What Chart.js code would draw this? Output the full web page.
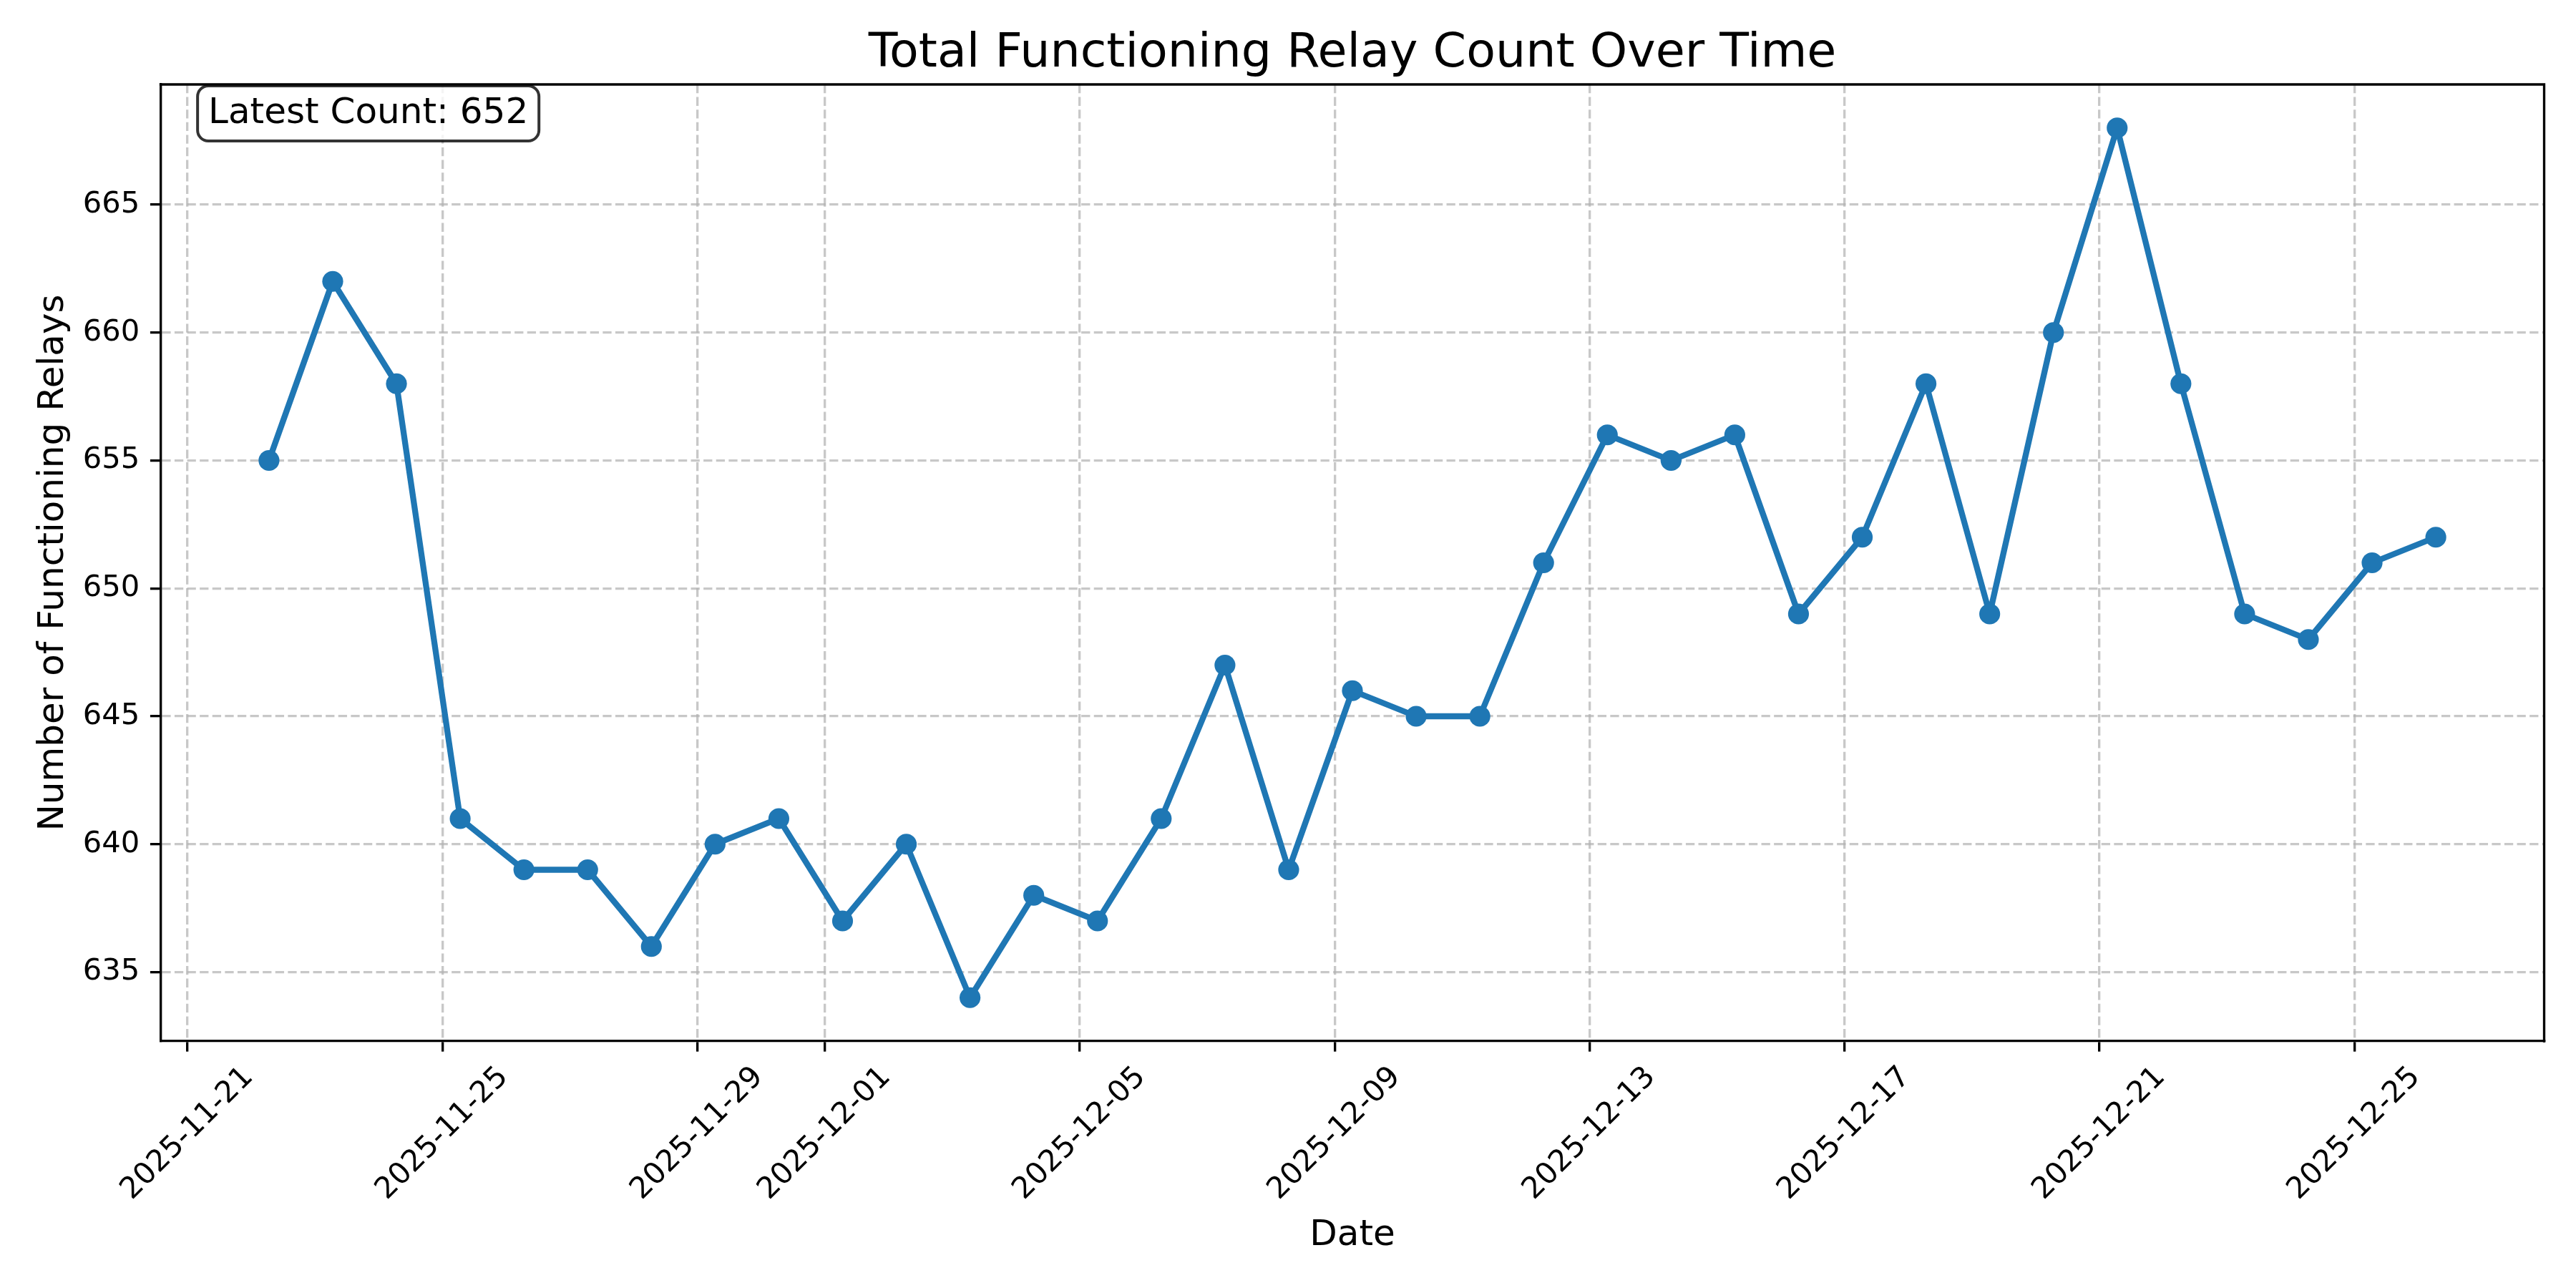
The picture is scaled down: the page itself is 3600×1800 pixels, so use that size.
<!DOCTYPE html>
<html>
<head>
<meta charset="utf-8">
<title>Total Functioning Relay Count Over Time</title>
<script src="https://cdn.jsdelivr.net/npm/chart.js@4.4.1/dist/chart.umd.min.js"></script>
<style>
  html, body { margin: 0; padding: 0; background: #fff; }
  #wrap { width: 3600px; height: 1800px; }
</style>
</head>
<body>
<div id="wrap"><canvas id="relayChart" width="3600" height="1800"></canvas></div>
<script>
// sample times (daily readings)
const dates = [
    '2025-11-22', '2025-11-23', '2025-11-24', '2025-11-25', '2025-11-26', '2025-11-27', '2025-11-28',
    '2025-11-29', '2025-11-30', '2025-12-01', '2025-12-02', '2025-12-03', '2025-12-04', '2025-12-05',
    '2025-12-06', '2025-12-07', '2025-12-08', '2025-12-09', '2025-12-10', '2025-12-11', '2025-12-12',
    '2025-12-13', '2025-12-14', '2025-12-15', '2025-12-16', '2025-12-17', '2025-12-18', '2025-12-19',
    '2025-12-20', '2025-12-21', '2025-12-22', '2025-12-23', '2025-12-24', '2025-12-25', '2025-12-26'
];
const sampleTime = '06:40';
const relayCounts = [
    655, 662, 658, 641, 639, 639, 636,
    640, 641, 637, 640, 634, 638, 637,
    641, 647, 639, 646, 645, 645, 651,
    656, 655, 656, 649, 652, 658, 649,
    660, 668, 658, 649, 648, 651, 652
];
const xTickDates = ['2025-11-21', '2025-11-25', '2025-11-29', '2025-12-01', '2025-12-05',
                    '2025-12-09', '2025-12-13', '2025-12-17', '2025-12-21', '2025-12-25'];
const yTicks = [635, 640, 645, 650, 655, 660, 665];

const chartTitle = 'Total Functioning Relay Count Over Time';
const xTitle = 'Date';
const yTitle = 'Number of Functioning Relays';
const latestText = 'Latest Count: ' + relayCounts[relayCounts.length - 1];

const DAY = 86400000;
const toDays = s => Date.parse(s + 'Z') / DAY;
const fmtDay = v => new Date(Math.round(v * DAY)).toISOString().slice(0, 10);

const xVals = dates.map(d => toDays(d + 'T' + sampleTime + ':00'));
const xTickVals = xTickDates.map(d => toDays(d + 'T00:00:00'));
const points = xVals.map((x, i) => ({ x: x, y: relayCounts[i] }));

// matplotlib-like 5% margins
const xSpan = xVals[xVals.length - 1] - xVals[0];
const yMinData = Math.min(...relayCounts), yMaxData = Math.max(...relayCounts);
const ySpan = yMaxData - yMinData;

const FONT = 'DejaVu Sans';
const tickPx = 41.67;
const gridColor = 'rgba(176,176,176,0.7)';
const lw = 3.33;
const tickLen = 14.6;

Chart.defaults.font.family = FONT;

const decor = {
    id: 'decor',
    afterDraw(chart) {
        const { ctx, chartArea: a, scales } = chart;
        ctx.save();

        // top + right spines
        ctx.strokeStyle = '#000';
        ctx.lineWidth = lw;
        ctx.lineCap = 'square';
        ctx.beginPath();
        ctx.moveTo(a.left, a.top);
        ctx.lineTo(a.right, a.top);
        ctx.lineTo(a.right, a.bottom);
        ctx.stroke();

        ctx.fillStyle = '#000';

        // x tick labels, rotated 45deg and centred on the tick
        const xs = scales.x;
        ctx.font = tickPx + 'px "' + FONT + '"';
        ctx.textAlign = 'center';
        ctx.textBaseline = 'middle';
        const labTop = a.bottom + tickLen + 14.6;
        xs.ticks.forEach(t => {
            const px = xs.getPixelForValue(t.value);
            const w = ctx.measureText(t.label).width;
            const cy = labTop + (w + tickPx) * Math.SQRT1_2 / 2;
            ctx.save();
            ctx.translate(px, cy);
            ctx.rotate(-Math.PI / 4);
            ctx.fillText(t.label, 0, 0);
            ctx.restore();
        });

        const cx = (a.left + a.right) / 2;
        ctx.textBaseline = 'alphabetic';

        // title
        ctx.font = '66.67px "' + FONT + '"';
        ctx.fillText(chartTitle, cx, 93);

        // axis titles
        ctx.font = '50px "' + FONT + '"';
        ctx.fillText(xTitle, cx, 1740);
        ctx.save();
        ctx.translate(88, (a.top + a.bottom) / 2);
        ctx.rotate(-Math.PI / 2);
        ctx.fillText(yTitle, 0, 0);
        ctx.restore();

        // latest count box
        const tx = a.left + 0.02 * (a.right - a.left);
        const base = a.top + 54;
        const tw = ctx.measureText(latestText).width;
        ctx.beginPath();
        ctx.roundRect(tx - 15, base - 52, tw + 30, 77, 15);
        ctx.fillStyle = 'rgba(255,255,255,0.8)';
        ctx.fill();
        ctx.lineWidth = 4;
        ctx.strokeStyle = 'rgba(0,0,0,0.8)';
        ctx.stroke();
        ctx.fillStyle = '#000';
        ctx.textAlign = 'left';
        ctx.fillText(latestText, tx, base);

        ctx.restore();
    }
};

new Chart(document.getElementById('relayChart'), {
    type: 'line',
    data: {
        datasets: [{
            label: 'Functioning relays',
            data: points,
            borderColor: '#1f77b4',
            backgroundColor: '#1f77b4',
            borderWidth: 8.33,
            borderJoinStyle: 'round',
            pointRadius: 14.6,
            pointBorderWidth: 0,
            pointBackgroundColor: '#1f77b4',
            tension: 0,
            fill: false
        }]
    },
    options: {
        responsive: false,
        animation: false,
        devicePixelRatio: 1,
        layout: { padding: { left: 0, top: 118, right: 44.5, bottom: 0 } },
        plugins: {
            legend: { display: false },
            title: { display: false },
            tooltip: { enabled: false }
        },
        scales: {
            x: {
                type: 'linear',
                min: xVals[0] - 0.05 * xSpan,
                max: xVals[xVals.length - 1] + 0.05 * xSpan,
                afterBuildTicks: s => { s.ticks = xTickVals.map(v => ({ value: v })); },
                afterFit: s => { s.height = 345; },
                grid: { color: gridColor, lineWidth: lw, tickLength: tickLen, tickColor: '#000', tickWidth: lw },
                border: { display: true, color: '#000', width: lw, dash: [12.3, 5.3] },
                ticks: {
                    display: false,
                    autoSkip: false,
                    callback: v => fmtDay(v)
                }
            },
            y: {
                min: yMinData - 0.05 * ySpan,
                max: yMaxData + 0.05 * ySpan,
                afterBuildTicks: s => { s.ticks = yTicks.map(v => ({ value: v })); },
                afterFit: s => { s.width = 224.5; },
                grid: { color: gridColor, lineWidth: lw, tickLength: tickLen, tickColor: '#000', tickWidth: lw },
                border: { display: true, color: '#000', width: lw, dash: [12.3, 5.3] },
                ticks: {
                    color: '#000',
                    padding: 14.6,
                    font: { size: tickPx, family: FONT },
                    callback: v => String(v)
                }
            }
        }
    },
    plugins: [decor]
});
</script>
</body>
</html>
